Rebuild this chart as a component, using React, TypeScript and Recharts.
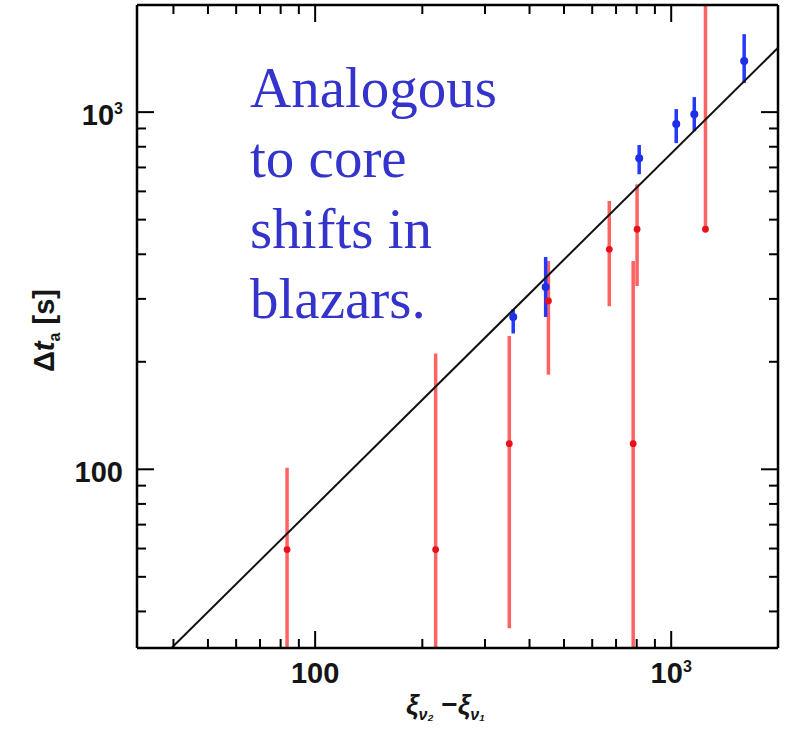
import { ScatterChart, Scatter, XAxis, YAxis, ErrorBar } from 'recharts';

// x = xi difference, y = delay in s
const redX = [83.4, 218, 351, 452, 670, 802, 782, 1248];
const redY = [59.6, 59.6, 118, 296, 413, 470, 118, 470];
const redLo = [20, 20, 35.9, 184, 286, 326, 20, 462];
const redHi = [101, 211, 236, 383, 564, 628, 383, 3000];

const blueX = [360, 444, 813, 1033, 1161, 1603];
const blueY = [267, 324, 743, 926, 987, 1390];
const blueLo = [240, 267, 670, 819, 885, 1206];
const blueHi = [281, 393, 809, 1020, 1102, 1653];

const fitX = [39.5, 1995];
const fitY = [31.6, 1514];

const axisTicks = [40, 50, 60, 70, 80, 90, 100, 200, 300, 400, 500, 600, 700, 800, 900, 1000];
const majorTicks = [100, 1000];
const domain: [number, number] = [31.6, 1995];

// error bars that run off the frame are cut at the frame edge
const toPoints = (xs: number[], ys: number[], lo: number[], hi: number[]) =>
  xs.map((x, i) => {
    const low = Math.max(lo[i], domain[0]);
    const high = Math.min(hi[i], domain[1]);
    return { x, y: ys[i], err: [ys[i] - low, high - ys[i]] };
  });

const red = toPoints(redX, redY, redLo, redHi);
const blue = toPoints(blueX, blueY, blueLo, blueHi);
const fit = fitX.map((x, i) => ({ x, y: fitY[i] }));

const labelStyle = { fontFamily: 'Liberation Sans, Arial, sans-serif', fontWeight: 700, fill: '#151515' };

const TickLabel = ({ x, y, v, anchor }: { x: number; y: number; v: number; anchor: 'middle' | 'end' }) => (
  <text x={x} y={y} textAnchor={anchor} fontSize={29} {...labelStyle}>
    {v === 1000 ? (
      <>
        10<tspan dy={-11} fontSize={16}>3</tspan>
      </>
    ) : (
      String(v)
    )}
  </text>
);

const tickLen = (v: number) => (majorTicks.includes(v) ? 17 : 9);

const BottomTick = (p: any) => {
  const v = p.payload.value;
  return (
    <g>
      <line x1={p.x} y1={p.y} x2={p.x} y2={p.y - tickLen(v)} stroke="#000" strokeWidth={2} />
      {majorTicks.includes(v) && <TickLabel x={p.x} y={p.y + 35} v={v} anchor="middle" />}
    </g>
  );
};

const LeftTick = (p: any) => {
  const v = p.payload.value;
  return (
    <g>
      <line x1={p.x} y1={p.y} x2={p.x + tickLen(v)} y2={p.y} stroke="#000" strokeWidth={2} />
      {majorTicks.includes(v) && <TickLabel x={p.x - 14} y={p.y + 13} v={v} anchor="end" />}
    </g>
  );
};

const TopTick = (p: any) => (
  <line x1={p.x} y1={p.y} x2={p.x} y2={p.y + tickLen(p.payload.value)} stroke="#000" strokeWidth={2} />
);

const RightTick = (p: any) => (
  <line x1={p.x} y1={p.y} x2={p.x - tickLen(p.payload.value)} y2={p.y} stroke="#000" strokeWidth={2} />
);

const RedDot = (p: any) => <circle cx={p.cx} cy={p.cy} r={3.4} fill="#e8101a" />;
const BlueDot = (p: any) => <circle cx={p.cx} cy={p.cy} r={4} fill="#1f2fe6" />;
const NoDot = () => <g />;

const axisLine = { stroke: '#000', strokeWidth: 2.5 };

export default function App() {
  return (
    <div style={{ position: 'absolute', left: 0, top: 0, width: 787, height: 733, background: '#fff' }}>
      <ScatterChart width={787} height={733} margin={{ top: 0, right: 0, bottom: 0, left: 0 }}>
        <XAxis
          xAxisId="b"
          type="number"
          dataKey="x"
          scale="log"
          domain={domain}
          allowDataOverflow
          ticks={axisTicks}
          interval={0}
          tickSize={0}
          tickMargin={0}
          tickLine={false}
          axisLine={axisLine}
          tick={BottomTick}
          height={85}
        />
        <XAxis
          xAxisId="t"
          orientation="top"
          type="number"
          dataKey="x"
          scale="log"
          domain={domain}
          allowDataOverflow
          ticks={axisTicks}
          interval={0}
          tickSize={0}
          tickMargin={0}
          tickLine={false}
          axisLine={axisLine}
          tick={TopTick}
          height={5}
        />
        <YAxis
          yAxisId="l"
          type="number"
          dataKey="y"
          scale="log"
          domain={domain}
          allowDataOverflow
          ticks={axisTicks}
          interval={0}
          tickSize={0}
          tickMargin={0}
          tickLine={false}
          axisLine={axisLine}
          tick={LeftTick}
          width={137}
        />
        <YAxis
          yAxisId="r"
          orientation="right"
          type="number"
          dataKey="y"
          scale="log"
          domain={domain}
          allowDataOverflow
          ticks={axisTicks}
          interval={0}
          tickSize={0}
          tickMargin={0}
          tickLine={false}
          axisLine={axisLine}
          tick={RightTick}
          width={9}
        />
        <Scatter
          xAxisId="t"
          yAxisId="r"
          data={fit}
          line={{ stroke: '#111', strokeWidth: 2 }}
          shape={NoDot}
          isAnimationActive={false}
        />
        <Scatter xAxisId="b" yAxisId="l" data={red} shape={RedDot} isAnimationActive={false}>
          <ErrorBar dataKey="err" direction="y" width={0} stroke="#ff3b3b" strokeOpacity={0.8} strokeWidth={3.5} isAnimationActive={false} />
        </Scatter>
        <Scatter xAxisId="b" yAxisId="l" data={blue} shape={BlueDot} isAnimationActive={false}>
          <ErrorBar dataKey="err" direction="y" width={0} stroke="#2438ff" strokeWidth={3.5} isAnimationActive={false} />
        </Scatter>
      </ScatterChart>
      <svg width={787} height={733} style={{ position: 'absolute', left: 0, top: 0, pointerEvents: 'none' }}>
        <g fontFamily="Liberation Serif, Times New Roman, serif" fontSize={57} fill="#3434cc">
          <text x={250} y={107}>Analogous</text>
          <text x={250} y={177}>to core</text>
          <text x={250} y={248}>shifts in</text>
          <text x={250} y={318}>blazars.</text>
        </g>
        <text x={406} y={714} fontSize={28} {...labelStyle}>
          <tspan fontStyle="italic">ξ</tspan>
          <tspan fontSize={16} dy={6} fontStyle="italic">ν₂</tspan>
          <tspan dy={-6}> −</tspan>
          <tspan fontStyle="italic">ξ</tspan>
          <tspan fontSize={16} dy={6} fontStyle="italic">ν₁</tspan>
        </text>
        <text x={0} y={0} transform="translate(54,372) rotate(-90)" fontSize={29} {...labelStyle}>
          Δ<tspan fontStyle="italic">t</tspan>
          <tspan fontSize={16} dy={6}>a</tspan>
          <tspan dy={-6}> [s]</tspan>
        </text>
      </svg>
    </div>
  );
}
